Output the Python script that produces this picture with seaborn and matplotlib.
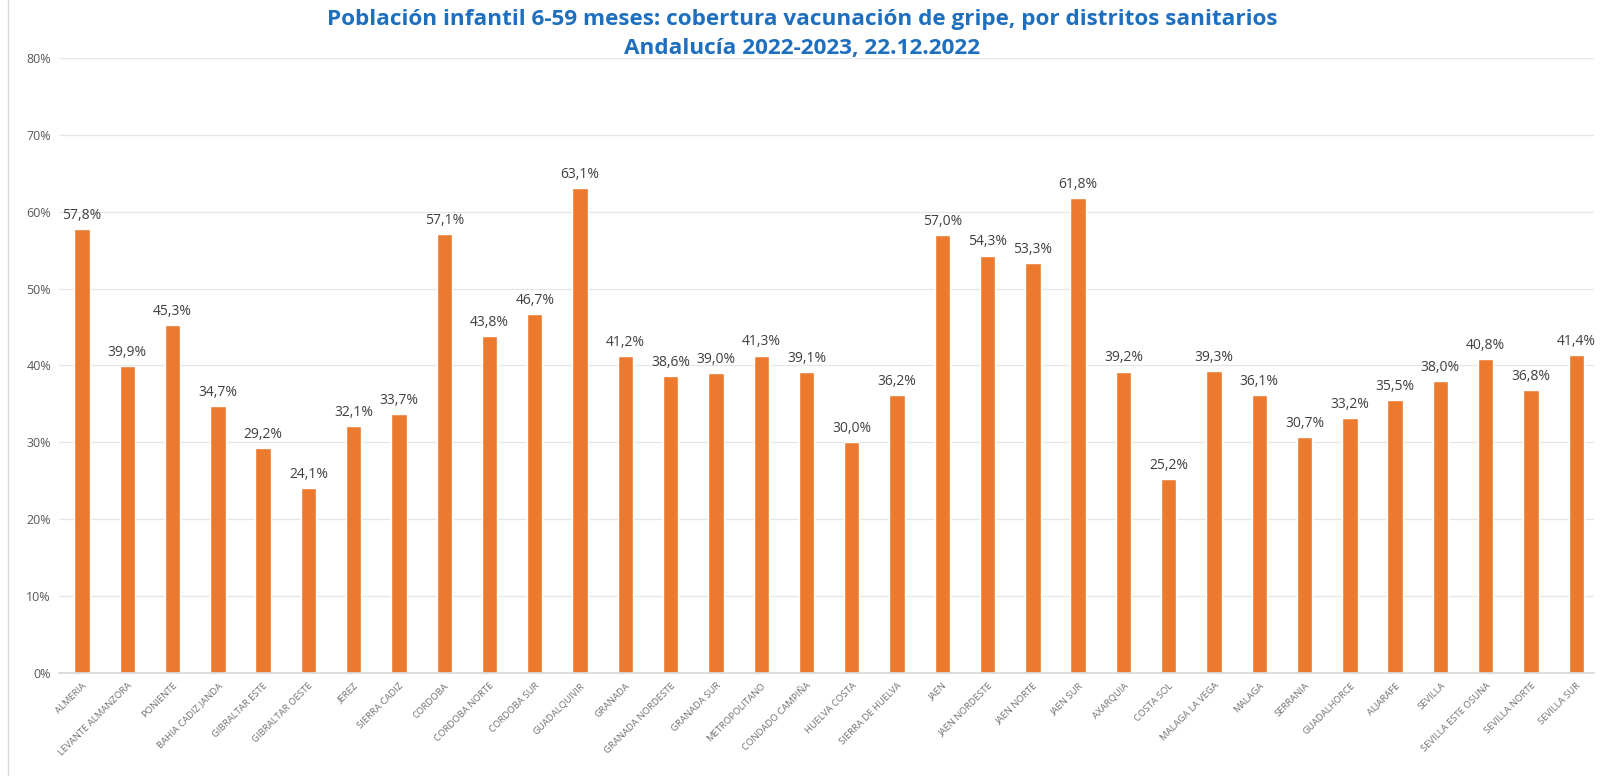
import matplotlib
matplotlib.use("Agg")
import matplotlib.pyplot as plt
import seaborn as sns
import pandas as pd

# Distritos sanitarios and coverage (%)
distritos = [
    "ALMERIA", "LEVANTE ALMANZORA", "PONIENTE", "BAHIA CADIZ JANDA",
    "GIBRALTAR ESTE", "GIBRALTAR OESTE", "JEREZ", "SIERRA CADIZ",
    "CORDOBA", "CORDOBA NORTE", "CORDOBA SUR", "GUADALQUIVIR",
    "GRANADA", "GRANADA NORDESTE", "GRANADA SUR", "METROPOLITANO",
    "CONDADO CAMPIÑA", "HUELVA COSTA", "SIERRA DE HUELVA", "JAEN",
    "JAEN NORDESTE", "JAEN NORTE", "JAEN SUR", "AXARQUIA",
    "COSTA SOL", "MALAGA LA VEGA", "MALAGA", "SERRANIA",
    "GUADALHORCE", "ALJARAFE", "SEVILLA", "SEVILLA ESTE OSUNA",
    "SEVILLA NORTE", "SEVILLA SUR",
]
cobertura = [
    57.8, 39.9, 45.3, 34.7, 29.2, 24.1, 32.1, 33.7,
    57.1, 43.8, 46.7, 63.1, 41.2, 38.6, 39.0, 41.3,
    39.1, 30.0, 36.2, 57.0, 54.3, 53.3, 61.8, 39.2,
    25.2, 39.3, 36.1, 30.7, 33.2, 35.5, 38.0, 40.8,
    36.8, 41.4,
]
yticks = [0, 10, 20, 30, 40, 50, 60, 70, 80]

df = pd.DataFrame({"distrito": distritos, "cobertura": cobertura})

sns.set_theme(style="white")
plt.rcParams["font.family"] = ["Open Sans", "DejaVu Sans"]

fig = plt.figure(figsize=(16.04, 7.76), dpi=100)
ax = fig.add_axes([0.037, 0.133, 0.957, 0.792])

sns.barplot(data=df, x="distrito", y="cobertura", color="#EB7A2E",
            width=0.34, saturation=1, ax=ax)

# value labels
for i, v in enumerate(cobertura):
    ax.text(i, v + 0.8, f"{v:.1f}%".replace(".", ","), ha="center", va="bottom",
            fontsize=10, color="#404040")

ax.set_ylim(0, 80)
ax.set_xlim(-0.5, len(distritos) - 0.6)
ax.set_yticks(yticks)
ax.set_yticklabels([f"{t}%" for t in yticks], fontsize=9, color="#595959")
ax.set_xticks(range(len(distritos)))
ax.set_xticklabels(distritos, rotation=45, ha="right", rotation_mode="anchor",
                   fontsize=6.8, color="#707070")
ax.tick_params(axis="both", length=0, pad=6)
ax.yaxis.grid(True, color="#E6E6E6", linewidth=0.9)
ax.set_axisbelow(True)
for s in ["top", "right", "left"]:
    ax.spines[s].set_visible(False)
ax.spines["bottom"].set_color("#D9D9D9")
ax.set_xlabel("")
ax.set_ylabel("")

fig.text(0.5, 0.975, "Población infantil 6-59 meses: cobertura vacunación de gripe, por distritos sanitarios",
         ha="center", va="center", fontsize=16.2, fontweight="bold", color="#1F6FBF")
fig.text(0.5, 0.937, "Andalucía 2022-2023, 22.12.2022",
         ha="center", va="center", fontsize=16.2, fontweight="bold", color="#1F6FBF")

# thin frame line at left like the original slide
fig.add_artist(plt.Line2D([0.005, 0.005], [0.0, 1.0], color="#D9D9D9", linewidth=1))

fig.savefig("out.png", dpi=100)
